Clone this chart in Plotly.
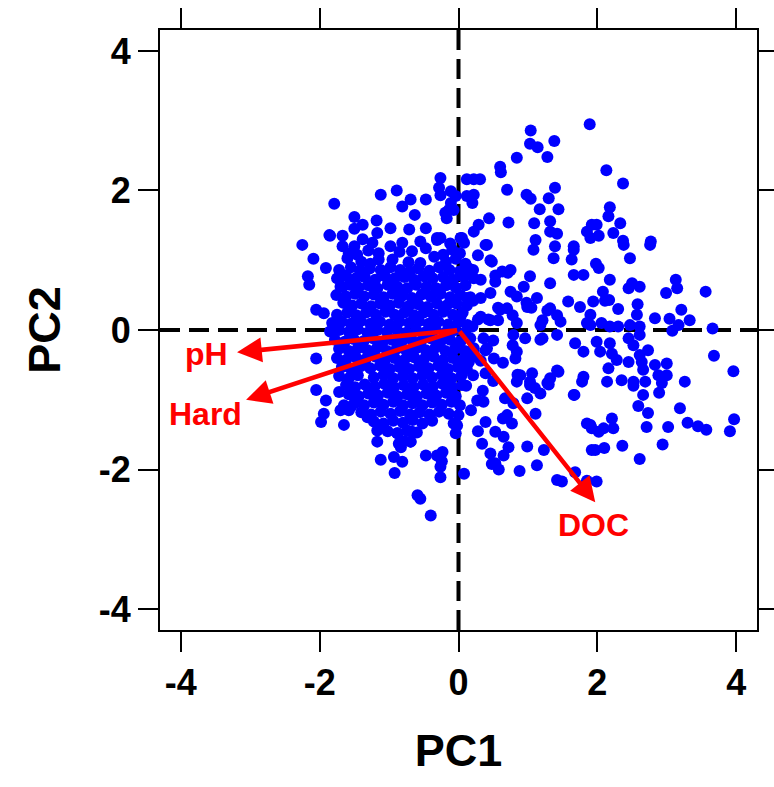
import plotly.graph_objects as go

# ---------------- data (PC1, PC2) ----------------
upper_pts = [
    (-1.79, 1.81), (-1.12, 1.94), (-0.89, 2.00), (-0.47, 1.87), (-0.26, 2.18), (-0.28, 2.04),
    (-0.69, 1.87), (-0.81, 1.77), (-0.63, 1.65), (-1.50, 1.62), (-1.38, 1.51), (-1.18, 1.57),
    (-1.50, 1.45), (-1.85, 1.35), (-1.67, 1.35), (-2.25, 1.22), (-0.98, 1.46), (-0.71, 1.44),
    (-0.47, 1.46), (-0.31, 1.32), (-1.17, 1.39),
    (1.89, 2.95), (1.04, 2.86), (1.03, 2.67), (1.14, 2.62), (1.38, 2.71), (1.28, 2.48),
    (0.84, 2.47), (0.60, 2.34), (0.61, 2.26), (0.12, 2.16), (0.22, 2.16), (0.31, 2.16),
    (0.70, 2.01), (0.98, 1.94), (1.04, 1.88), (1.39, 2.04), (1.30, 1.89), (1.17, 1.73),
    (1.44, 1.73), (0.72, 1.54), (1.09, 1.53), (1.32, 1.56), (0.44, 1.60), (0.29, 1.51),
    (0.22, 1.41), (0.03, 1.32), (1.32, 1.41), (1.42, 1.38), (1.11, 1.29), (1.66, 1.20),
    (1.85, 1.41), (1.92, 1.51), (0.41, 1.22), (0.08, 1.25), (-0.26, 1.32), (-0.26, 1.93),
    (-0.11, 1.99), (-0.11, 1.82), (-0.14, 1.72), (-0.04, 1.92), (-0.19, 1.68), (-0.17, 1.60),
    (0.12, 1.92), (0.22, 1.94), (-0.07, 1.72), (0.20, 1.82),
    (2.13, 2.29), (2.37, 2.10), (2.18, 1.76), (2.16, 1.63), (2.33, 1.53), (1.99, 1.51),
    (2.23, 1.39), (2.02, 1.35), (1.90, 1.32), (2.37, 1.28), (2.77, 1.27),
]

mid_pts = [
    (1.08, 1.15), (1.39, 1.20), (1.66, 1.15), (1.37, 1.03), (1.63, 1.01), (0.75, 0.86),
    (0.63, 0.84), (0.48, 0.98), (0.32, 0.72), (0.08, 0.77), (0.53, 0.69), (1.03, 0.77),
    (1.32, 0.67), (0.94, 0.62), (1.66, 0.79), (1.80, 0.79), (0.75, 0.55), (0.46, 0.53),
    (0.32, 0.46), (0.12, 0.46), (0.84, 0.48), (1.13, 0.46), (1.58, 0.41), (1.75, 0.33),
    (1.32, 0.31), (0.99, 0.33), (0.70, 0.31), (0.60, 0.29), (0.32, 0.19), (0.03, 0.19),
    (0.46, 0.14), (0.84, 0.10), (1.18, 0.07), (1.47, 0.12), (1.85, 0.10), (0.20, 0.05),
    (0.79, -0.07), (1.18, -0.14), (1.42, -0.07), (1.68, -0.19), (1.80, -0.31), (0.84, -0.31),
    (0.82, -0.41), (0.36, -0.12), (0.41, -0.26), (0.51, -0.41), (0.22, -0.31), (0.15, -0.46),
    (0.89, -0.65), (1.03, -0.74), (1.44, -0.60), (1.32, -0.69), (1.80, -0.67),
    (0.39, 1.22), (0.46, 1.00), (0.28, 1.07), (0.21, 0.86), (0.53, 0.78), (0.71, 0.82),
    (0.57, 0.14), (0.43, 0.15), (0.28, 0.15), (0.57, 0.32), (0.21, 0.42), (0.98, 0.39),
    (1.05, 0.32), (1.28, 0.28), (1.42, 0.21), (1.21, 0.14), (0.78, 0.21), (0.96, -0.12),
    (1.21, -0.12), (0.78, -0.22), (0.50, -0.15), (0.39, -0.29), (0.64, -0.47), (0.85, -0.64),
    (1.06, -0.62), (1.28, -0.76), (1.42, -0.58), (1.10, -0.83), (1.67, -0.93), (0.50, -0.73),
    (0.39, -0.62), (0.21, -0.65), (0.11, -0.80), (0.14, -0.44), (0.32, -0.44), (0.35, -0.87),
]

right_pts = [
    (2.38, 1.22), (2.76, 1.22), (2.47, 1.03), (2.02, 0.89), (2.18, 0.72), (2.50, 0.67),
    (2.61, 0.62), (3.13, 0.72), (3.15, 0.60), (2.99, 0.53), (3.56, 0.55), (1.94, 0.41),
    (2.17, 0.43), (2.58, 0.37), (2.57, 0.22), (3.21, 0.29), (2.83, 0.17), (3.04, 0.16),
    (3.33, 0.14), (3.17, 0.07), (3.08, -0.01), (3.66, 0.02), (1.90, 0.22), (1.90, 0.07),
    (2.06, 0.10), (2.18, 0.05), (2.30, 0.05), (2.47, 0.07), (2.61, 0.05), (2.45, -0.12),
    (2.61, -0.07), (1.99, -0.17), (2.18, -0.19), (2.04, -0.31), (2.21, -0.34), (2.52, -0.22),
    (2.73, -0.29), (2.61, -0.36), (2.28, -0.43), (2.45, -0.46), (2.64, -0.46), (3.00, -0.48),
    (2.83, -0.50), (2.16, -0.55), (2.66, -0.57), (2.88, -0.65), (3.00, -0.65), (3.68, -0.37),
    (3.96, -0.59), (2.14, -0.74), (2.35, -0.72), (2.52, -0.74), (2.69, -0.74), (3.26, -0.74),
    (2.45, 0.60), (2.08, 0.55), (2.30, 0.30), (1.98, 0.95), (2.11, 0.42),
]

lower_pts = [
    (2.52, -0.80), (2.93, -0.76), (2.66, -0.93), (2.89, -0.90), (2.59, -1.09), (2.73, -1.19),
    (3.19, -1.12), (2.21, -1.27), (1.90, -1.36), (2.09, -1.41), (2.23, -1.41), (2.02, -1.46),
    (2.71, -1.39), (3.02, -1.39), (3.30, -1.33), (3.45, -1.38), (3.57, -1.43), (3.97, -1.28),
    (3.91, -1.45), (1.97, -1.72), (2.10, -1.69), (2.36, -1.66), (2.94, -1.64), (2.61, -1.85),
    (1.99, -2.17),
    (0.84, -0.74), (1.03, -0.79), (1.30, -0.78), (1.78, -0.74), (1.18, -0.91), (1.66, -0.93),
    (0.99, -0.98), (1.11, -1.20), (0.70, -1.22), (0.77, -1.34), (0.39, -1.32), (0.53, -1.46),
    (0.65, -1.53), (0.34, -1.63), (0.72, -1.68), (0.65, -1.80), (0.99, -1.67), (1.23, -1.72),
    (1.13, -1.94), (0.48, -1.92), (0.58, -2.00), (0.88, -2.02), (1.42, -2.15), (1.49, -2.17),
    (1.68, -2.04), (1.85, -2.16), (1.85, -1.34), (1.92, -1.41), (1.92, -1.72), (0.08, -2.06),
    (-0.07, -1.34), (-0.04, -1.48), (0.36, -1.03), (0.27, -1.01), (0.28, -1.45), (0.46, -1.77),
    (0.53, -1.91), (0.64, -1.27), (0.79, -1.05), (0.67, -0.98), (0.18, -1.15),
    (-2.05, -0.86), (-1.91, -1.01), (-1.94, -1.20), (-1.98, -1.32), (-1.65, -1.08), (-1.58, -1.15),
    (-1.70, -1.15), (-1.65, -1.36), (-1.31, -1.25), (-1.17, -1.44), (-1.17, -1.60), (-1.12, -1.86),
    (-0.92, -2.05), (-0.93, -1.82), (-0.81, -1.89), (-0.83, -1.68), (-0.69, -1.60), (-0.88, -1.48),
    (-0.47, -1.80), (-0.31, -1.80), (-0.26, -1.96), (-0.26, -2.11), (-0.59, -2.37), (-0.55, -2.42),
    (-0.40, -2.66), (-0.23, -1.75), (-0.24, -1.88), (-1.72, -0.89), (-1.55, -1.10),
]

left_pts = [
    (-2.09, 1.02), (-1.91, 0.89), (-2.17, 0.77), (-2.15, 0.65), (-2.05, 0.29), (-1.94, 0.24),
    (-2.05, -0.41), (-1.77, 0.07), (-1.65, 0.43), (-1.70, 0.77), (-1.67, 0.62), (-1.86, 1.36),
    (-1.60, 1.03), (-1.46, 1.08),
]

core_rows = [
    [(-1.67, 1.20), (-1.50, 1.20), (-1.24, 1.25), (-0.98, 1.20), (-0.81, 1.25), (-0.31, 1.29),
     (-0.55, 1.27), (0.05, 1.32), (-0.12, 1.24), (-1.38, 1.30)],
    [(-1.58, 1.10), (-1.30, 1.14), (-1.15, 1.10), (-0.67, 1.13), (-0.47, 1.17), (-0.09, 1.15),
     (-0.85, 1.12), (-0.22, 1.08), (0.02, 1.10)],
    [(-1.40, 0.98), (-1.15, 1.01), (-0.95, 1.01), (-0.72, 0.97), (-0.55, 0.96), (-0.35, 1.05),
     (-0.18, 0.98), (-0.04, 1.02), (0.10, 0.95), (-1.27, 0.95)],
    [(-1.72, 0.86), (-1.55, 0.90), (-1.42, 0.85), (-1.28, 0.88), (-1.12, 0.86), (-0.98, 0.90),
     (-0.84, 0.86), (-0.70, 0.84), (-0.58, 0.88), (-0.42, 0.85), (-0.28, 0.90), (-0.13, 0.86),
     (0.02, 0.84), (0.15, 0.88)],
    [(-1.75, 0.74), (-1.62, 0.78), (-1.48, 0.74), (-1.35, 0.76), (-1.20, 0.72), (-1.06, 0.77),
     (-0.92, 0.74), (-0.78, 0.76), (-0.64, 0.72), (-0.50, 0.77), (-0.37, 0.74), (-0.22, 0.76),
     (-0.08, 0.72), (0.06, 0.77), (0.22, 0.74)],
    [(-1.70, 0.62), (-1.57, 0.65), (-1.44, 0.61), (-1.30, 0.64), (-1.17, 0.60), (-1.02, 0.65),
     (-0.88, 0.62), (-0.74, 0.60), (-0.61, 0.65), (-0.46, 0.62), (-0.32, 0.60), (-0.18, 0.64),
     (-0.04, 0.61), (0.10, 0.64)],
    [(-1.76, 0.50), (-1.62, 0.48), (-1.49, 0.52), (-1.36, 0.48), (-1.22, 0.51), (-1.08, 0.47),
     (-0.95, 0.52), (-0.81, 0.49), (-0.67, 0.46), (-0.53, 0.51), (-0.40, 0.48), (-0.26, 0.52),
     (-0.12, 0.47), (0.03, 0.50), (0.17, 0.47)],
    [(-1.66, 0.39), (-1.53, 0.35), (-1.40, 0.38), (-1.26, 0.34), (-1.13, 0.38), (-0.99, 0.35),
     (-0.86, 0.39), (-0.72, 0.34), (-0.58, 0.37), (-0.45, 0.33), (-0.31, 0.38), (-0.17, 0.35),
     (-0.03, 0.38), (0.12, 0.35)],
    [(-1.75, 0.22), (-1.60, 0.25), (-1.47, 0.21), (-1.33, 0.25), (-1.19, 0.22), (-1.05, 0.26),
     (-0.92, 0.22), (-0.78, 0.25), (-0.64, 0.21), (-0.50, 0.25), (-0.36, 0.22), (-0.22, 0.26),
     (-0.08, 0.22), (0.06, 0.25)],
    [(-1.82, 0.10), (-1.68, 0.12), (-1.55, 0.09), (-1.41, 0.13), (-1.27, 0.09), (-1.13, 0.12),
     (-0.99, 0.08), (-0.85, 0.12), (-0.71, 0.10), (-0.57, 0.13), (-0.43, 0.09), (-0.29, 0.12),
     (-0.15, 0.08), (0.00, 0.11), (0.13, 0.07)],
    [(-1.85, -0.02), (-1.72, 0.00), (-1.58, -0.03), (-1.45, 0.01), (-1.31, -0.04), (-1.17, 0.00),
     (-1.03, -0.03), (-0.89, 0.01), (-0.75, -0.04), (-0.61, 0.00), (-0.47, -0.03), (-0.33, 0.01),
     (-0.19, -0.04), (-0.05, 0.00), (0.10, -0.03)],
    [(-1.78, -0.14), (-1.64, -0.17), (-1.51, -0.13), (-1.37, -0.16), (-1.23, -0.12), (-1.09, -0.17),
     (-0.96, -0.14), (-0.82, -0.17), (-0.68, -0.13), (-0.54, -0.16), (-0.40, -0.12), (-0.26, -0.17),
     (-0.12, -0.14), (0.03, -0.16), (0.17, -0.12)],
    [(-1.72, -0.27), (-1.58, -0.30), (-1.45, -0.26), (-1.31, -0.29), (-1.17, -0.25), (-1.03, -0.30),
     (-0.89, -0.27), (-0.75, -0.30), (-0.61, -0.26), (-0.47, -0.29), (-0.33, -0.25), (-0.19, -0.30),
     (-0.05, -0.27), (0.09, -0.30), (0.22, -0.26)],
    [(-1.75, -0.40), (-1.62, -0.43), (-1.48, -0.39), (-1.34, -0.42), (-1.20, -0.38), (-1.06, -0.43),
     (-0.92, -0.40), (-0.78, -0.43), (-0.64, -0.39), (-0.50, -0.42), (-0.36, -0.38), (-0.22, -0.43),
     (-0.08, -0.40), (0.06, -0.43), (0.20, -0.38)],
    [(-1.68, -0.53), (-1.55, -0.56), (-1.41, -0.52), (-1.27, -0.55), (-1.13, -0.51), (-0.99, -0.56),
     (-0.85, -0.53), (-0.71, -0.56), (-0.57, -0.52), (-0.43, -0.55), (-0.29, -0.51), (-0.15, -0.56),
     (-0.01, -0.53), (0.12, -0.56)],
    [(-1.72, -0.66), (-1.58, -0.69), (-1.45, -0.65), (-1.22, -0.68), (-1.08, -0.64), (-0.94, -0.69),
     (-0.80, -0.66), (-0.66, -0.69), (-0.52, -0.65), (-0.38, -0.68), (-0.24, -0.64), (-0.10, -0.69),
     (0.04, -0.66)],
    [(-1.62, -0.79), (-1.49, -0.82), (-1.35, -0.78), (-1.21, -0.81), (-1.07, -0.77), (-0.93, -0.82),
     (-0.79, -0.79), (-0.65, -0.82), (-0.51, -0.78), (-0.37, -0.81), (-0.23, -0.77), (-0.09, -0.82),
     (0.05, -0.79)],
    [(-1.58, -0.92), (-1.44, -0.95), (-1.30, -0.91), (-1.16, -0.94), (-1.02, -0.90), (-0.88, -0.95),
     (-0.74, -0.92), (-0.60, -0.95), (-0.46, -0.91), (-0.32, -0.94), (-0.18, -0.90), (-0.04, -0.95)],
    [(-1.50, -1.05), (-1.36, -1.08), (-1.22, -1.04), (-1.08, -1.07), (-0.94, -1.03), (-0.80, -1.08),
     (-0.66, -1.05), (-0.52, -1.08), (-0.38, -1.04), (-0.24, -1.07), (-0.10, -1.03), (0.02, -1.08)],
    [(-1.40, -1.18), (-1.26, -1.21), (-1.12, -1.17), (-0.98, -1.20), (-0.84, -1.16), (-0.70, -1.21),
     (-0.56, -1.18), (-0.42, -1.21), (-0.28, -1.17), (-0.14, -1.20), (0.00, -1.22)],
    [(-1.22, -1.31), (-1.08, -1.34), (-0.94, -1.30), (-0.80, -1.33), (-0.66, -1.29), (-0.52, -1.34),
     (-0.38, -1.30), (-0.02, -1.37)],
    [(-1.02, -1.45), (-0.88, -1.48), (-0.74, -1.44), (-0.60, -1.47), (-0.67, -1.46)],
    [(-0.86, -1.63), (-0.69, -1.60), (-0.78, -1.59)],
]

# loading arrows: (name, PC1 tip, PC2 tip, label PC1, label PC2)
arrow_names = ["pH", "Hard", "DOC"]
arrow_pc1 = [-3.19, -3.06, 1.97]
arrow_pc2 = [-0.32, -1.00, -2.47]
label_pc1 = [-3.63, -3.65, 1.95]
label_pc2 = [-0.34, -1.21, -2.80]

tick_vals = [-4, -2, 0, 2, 4]
tick_text = ["-4", "-2", "0", "2", "4"]

# ---------------- figure ----------------
all_pts = upper_pts + mid_pts + right_pts + lower_pts + left_pts + [p for r in core_rows for p in r]
pc1 = [p[0] for p in all_pts]
pc2 = [p[1] for p in all_pts]

FONT = "Liberation Sans, Arial, sans-serif"
RNG = [-4.3, 4.3]

fig = go.Figure()
fig.add_trace(go.Scatter(
    x=pc1, y=pc2, mode="markers",
    marker=dict(color="#0000FF", size=12, line=dict(width=0)),
    hoverinfo="skip", showlegend=False,
))

# dashed zero lines (below the points)
fig.add_shape(type="line", xref="x", yref="y", x0=RNG[0], x1=RNG[1], y0=0, y1=0,
              line=dict(color="black", width=4, dash="20px,9px"), layer="below")
fig.add_shape(type="line", xref="x", yref="y", x0=0, x1=0, y0=RNG[0], y1=RNG[1],
              line=dict(color="black", width=4, dash="20px,9px"), layer="below")

for name, tx, ty, lx, ly in zip(arrow_names, arrow_pc1, arrow_pc2, label_pc1, label_pc2):
    fig.add_annotation(x=tx, y=ty, ax=0, ay=0, xref="x", yref="y", axref="x", ayref="y",
                       text="", showarrow=True, arrowhead=2, arrowsize=1.1,
                       arrowwidth=4.5, arrowcolor="#FF0000", standoff=0, startstandoff=0)
    fig.add_annotation(x=lx, y=ly, xref="x", yref="y", text=name, showarrow=False,
                       font=dict(family=FONT, size=32, color="#FF0000", weight="bold"))

axis_common = dict(
    range=RNG, tickvals=tick_vals, ticktext=tick_text,
    showgrid=False, zeroline=False, automargin=False,
    showline=True, linecolor="black", linewidth=2, mirror="allticks",
    ticks="outside", ticklen=20, tickwidth=2, tickcolor="black",
    tickfont=dict(family=FONT, size=36, color="black", weight="bold"),
)

fig.update_layout(
    width=774, height=787,
    margin=dict(l=160, r=17, t=30, b=157),
    paper_bgcolor="white", plot_bgcolor="white",
    xaxis=dict(**axis_common,
               title=dict(text="PC1", standoff=32,
                          font=dict(family=FONT, size=45, color="black", weight="bold"))),
    yaxis=dict(**axis_common,
               title=dict(text="PC2", standoff=24,
                          font=dict(family=FONT, size=45, color="black", weight="bold"))),
)

fig.write_html("out.html")
